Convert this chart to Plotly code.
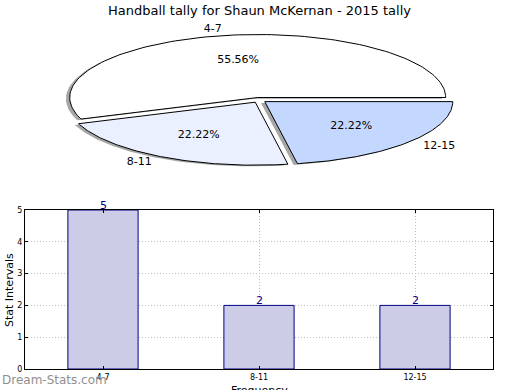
import numpy as np
import plotly.graph_objects as go

# ---- data ----
categories = ["4-7", "8-11", "12-15"]
counts = [5, 2, 2]
pie_colors = ["#ffffff", "#eaf0ff", "#c4d8ff"]
title_text = "Handball tally for Shaun McKernan - 2015 tally"
y_title = "Stat Intervals"
x_title = "Frequency"
watermark = "Dream-Stats.com"

W, H = 520, 390
FONT = "DejaVu Sans"

fig = go.Figure()

total = float(sum(counts))
explode = 0.04
shadow_off = (-0.02, -0.02)

wedge_paths = []
text_pts = []
start = 0.0
for cat, v, col in zip(categories, counts, pie_colors):
    frac = v / total
    a0 = start * 2 * np.pi
    a1 = (start + frac) * 2 * np.pi
    mid = 0.5 * (a0 + a1)
    dx, dy = explode * np.cos(mid), explode * np.sin(mid)
    t = np.linspace(a0, a1, 120)
    xs = np.concatenate([[0.0], np.cos(t), [0.0]]) + dx
    ys = np.concatenate([[0.0], np.sin(t), [0.0]]) + dy
    wedge_paths.append((cat, xs, ys, col))
    pct = "%.2f%%" % (100 * frac)
    text_pts.append((cat, pct, mid, dx, dy))
    start += frac

# shadows
for cat, xs, ys, col in wedge_paths:
    fig.add_trace(go.Scatter(
        x=xs + shadow_off[0], y=ys + shadow_off[1], mode="lines", fill="toself",
        fillcolor="rgba(77,77,77,0.5)", line=dict(width=0),
        xaxis="x2", yaxis="y2", hoverinfo="skip", showlegend=False))
# wedges
for cat, xs, ys, col in wedge_paths:
    fig.add_trace(go.Scatter(
        x=xs, y=ys, mode="lines", fill="toself", fillcolor=col,
        line=dict(color="black", width=1), xaxis="x2", yaxis="y2",
        hoverinfo="skip", showlegend=False))

# labels and pct texts
for cat, pct, mid, dx, dy in text_pts:
    lx = 1.1 * np.cos(mid) + dx
    ly = 1.1 * np.sin(mid) + dy
    pos = "middle right" if lx > 0 else "middle left"
    fig.add_trace(go.Scatter(
        x=[lx], y=[ly], mode="text", text=[cat], textposition=pos,
        textfont=dict(family=FONT, size=11, color="black"),
        xaxis="x2", yaxis="y2", hoverinfo="skip", showlegend=False))
    px_ = 0.6 * np.cos(mid) + dx
    py_ = 0.6 * np.sin(mid) + dy
    fig.add_trace(go.Scatter(
        x=[px_], y=[py_], mode="text", text=[pct], textposition="middle center",
        textfont=dict(family=FONT, size=11, color="black"),
        xaxis="x2", yaxis="y2", hoverinfo="skip", showlegend=False))

# bar chart
fig.add_trace(go.Bar(
    x=categories, y=counts, width=0.45,
    marker=dict(color="#ccccE6", line=dict(color="#000088", width=1)),
    showlegend=False, hoverinfo="skip"))

bar_labels = [
    dict(text=str(c), x=cat, y=c, xref="x", yref="y", showarrow=False,
         xanchor="center", yanchor="middle", yshift=5,
         font=dict(family=FONT, size=11, color="#000088"))
    for cat, c in zip(categories, counts)
]

# pie axes geometry: center (259,100) px, rx 188 px, ry 63 px
cx, cy, rx, ry, R = 259.0, 100.0, 188.0, 63.0, 1.3
xd = [(cx - R * rx) / W, (cx + R * rx) / W]
yd = [1 - (cy + R * ry) / H, 1 - (cy - R * ry) / H]

fig.update_layout(
    width=W, height=H, margin=dict(l=0, r=0, t=0, b=0, autoexpand=False),
    paper_bgcolor="white", plot_bgcolor="white",
    font=dict(family=FONT, color="black"),
    xaxis=dict(domain=[25 / W, 493 / W], range=[-0.5, 2.5], type="category",
               showline=True, linecolor="black", linewidth=1, mirror="ticks",
               ticks="inside", ticklen=3, tickcolor="black",
               showgrid=True, gridcolor="#c0c0c0", griddash="1px,2px", gridwidth=1,
               tickfont=dict(family=FONT, size=8), zeroline=False),
    yaxis=dict(domain=[1 - 369 / H, 1 - 210 / H], range=[0, 5],
               tickvals=[0, 1, 2, 3, 4, 5],
               showline=True, linecolor="black", linewidth=1, mirror="ticks",
               ticks="inside", ticklen=3, tickcolor="black",
               showgrid=True, gridcolor="#c0c0c0", griddash="1px,2px", gridwidth=1,
               tickfont=dict(family=FONT, size=8), zeroline=False),
    xaxis2=dict(domain=xd, range=[-R, R], visible=False, anchor="y2"),
    yaxis2=dict(domain=yd, range=[-R, R], visible=False, anchor="x2"),
    annotations=bar_labels + [
        dict(text=title_text, x=259 / W, y=1 - 10 / H, xref="paper", yref="paper",
             showarrow=False, xanchor="center", yanchor="middle",
             font=dict(family=FONT, size=13, color="black")),
        dict(text=y_title, x=9 / W, y=1 - 290 / H, xref="paper", yref="paper",
             showarrow=False, textangle=-90, xanchor="center", yanchor="middle",
             font=dict(family=FONT, size=11, color="black")),
        dict(text=x_title, x=259 / W, y=1 - 390 / H, xref="paper", yref="paper",
             showarrow=False, xanchor="center", yanchor="middle",
             font=dict(family=FONT, size=11, color="black")),
        dict(text=watermark, x=0, y=1 - 380 / H, xref="paper", yref="paper",
             showarrow=False, xanchor="left", yanchor="middle",
             font=dict(family=FONT, size=12, color="#8f8f8f")),
    ],
)

fig.write_html("out.html", config={"displayModeBar": False},
               post_script="document.body.style.margin='0';")
